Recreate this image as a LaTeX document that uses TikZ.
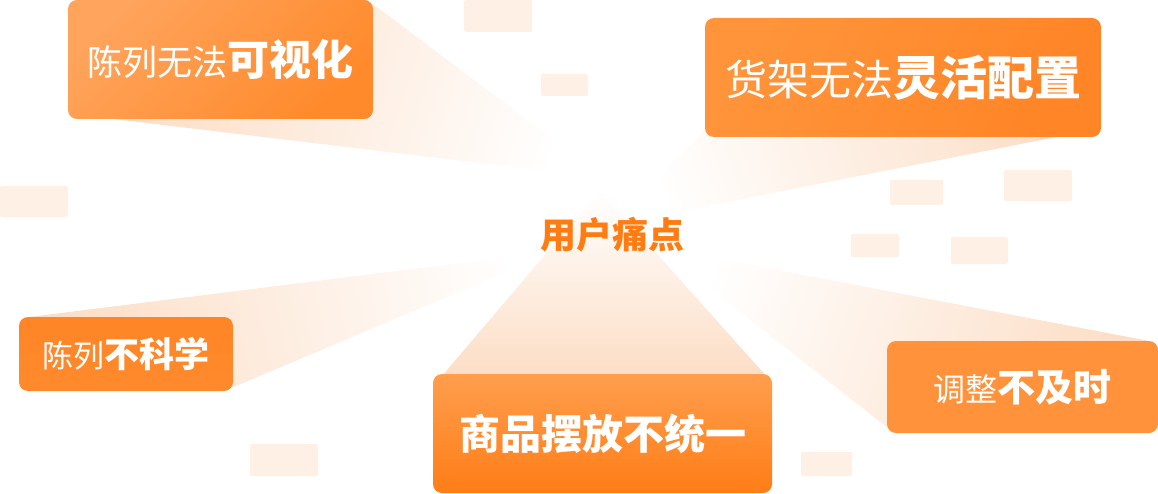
\documentclass[tikz,border=0pt]{standalone}
\usepackage{fontspec}
\newfontfamily\cjk{Noto Sans CJK SC}
\usetikzlibrary{calc}
\definecolor{deco}{RGB}{254,240,229}
\definecolor{beamc}{RGB}{252,222,198}
\definecolor{ptext}{RGB}{255,124,18}
\definecolor{oA}{RGB}{255,164,92}
\definecolor{oB}{RGB}{255,138,44}
\definecolor{oC}{RGB}{255,148,58}
\definecolor{oD}{RGB}{255,133,38}
\definecolor{oE}{RGB}{255,158,78}
\definecolor{oF}{RGB}{255,125,22}
\definecolor{oG}{RGB}{255,146,58}
\newcommand{\rgtxt}[2]{{\fontsize{#1pt}{#1pt}\selectfont\cjk #2}}
\newcommand{\bdtxt}[2]{{\fontsize{#1pt}{#1pt}\selectfont\cjk\bfseries #2}}
\begin{document}
\begin{tikzpicture}[x=1pt,y=-1pt,
  pbox/.style={rounded corners=9pt, text=white, inner sep=0pt, anchor=center},
  decobox/.style={fill=deco, rounded corners=2pt},
  beamfill/.style={top color=beamc, bottom color=white, draw=none}]
\useasboundingbox (0,0) rectangle (1158,494);
% decorative tiles
\fill[decobox] (464,0) rectangle (532,32);
\fill[decobox] (541,74) rectangle (588,96);
\fill[decobox] (0,186) rectangle (68,217);
\fill[decobox] (890,180) rectangle (943,205);
\fill[decobox] (1004,170) rectangle (1072,201);
\fill[decobox] (851,234) rectangle (899,257);
\fill[decobox] (951,237) rectangle (1008,264);
\fill[decobox] (250,444) rectangle (318,476);
\fill[decobox] (801,452) rectangle (852,476);
% apex points
\coordinate (a1) at (605,178);
\coordinate (a2) at (615,224);
\coordinate (a3) at (556,251);
\coordinate (a4) at (600,190);
\coordinate (a5) at (657,247);
% box nodes (placed first, drawn as paths after beams)
\path (220.5,59.5) coordinate (p1) (903,77.5) coordinate (p2) (126,354) coordinate (p3)
      (602.5,433.5) coordinate (p4) (1022.5,387) coordinate (p5);
\path node[minimum width=305pt, minimum height=119pt, inner sep=0pt] (g1) at (p1) {}
      node[minimum width=396pt, minimum height=119pt, inner sep=0pt] (g2) at (p2) {}
      node[minimum width=214pt, minimum height=74pt, inner sep=0pt] (g3) at (p3) {}
      node[minimum width=339pt, minimum height=119pt, inner sep=0pt] (g4) at (p4) {}
      node[minimum width=271pt, minimum height=92pt, inner sep=0pt] (g5) at (p5) {};
% beams
\shade[beamfill, shading angle=72] ([xshift=-6pt]g1.north east) -- (a1) -- ([xshift=47pt]g1.south west) -- cycle;
\shade[beamfill, shading angle=-72] ([yshift=7pt]g2.south west) -- (a2) -- ([yshift=9pt]g2.south east) -- cycle;
\shade[beamfill, shading angle=103] ([xshift=12pt]g3.north west) -- (a3) -- ([yshift=4pt]g3.south east) -- cycle;
\shade[beamfill, shading angle=180] ([xshift=11pt]g4.north west) -- (a4) -- ([xshift=-8pt]g4.north east) -- cycle;
\shade[beamfill, shading angle=-110] ([xshift=-10pt]g5.north east) -- (a5) -- ([yshift=6pt]g5.south west) -- cycle;
% boxes
\node[pbox, minimum width=305pt, minimum height=119pt, top color=oA, bottom color=oB, shading angle=45] (b1) at (p1)
  {\rgtxt{35}{陈列无法}\bdtxt{42}{可视化}};
\node[pbox, minimum width=396pt, minimum height=119pt, top color=oC, bottom color=oD, shading angle=60] (b2) at (p2)
  {\rgtxt{42}{货架无法}\bdtxt{47}{灵活配置}};
\node[pbox, minimum width=214pt, minimum height=74pt, top color=oD, bottom color=oB] (b3) at (p3)
  {\rgtxt{31}{陈列}\bdtxt{35}{不科学}};
\node[pbox, minimum width=339pt, minimum height=119pt, top color=oE, bottom color=oF] (b4) at (p4)
  {\bdtxt{41}{商品摆放不统一}};
\node[pbox, minimum width=271pt, minimum height=92pt, fill=oG] (b5) at (p5)
  {\rgtxt{32}{调整}\bdtxt{38}{不及时}};
% centre label
\node[text=ptext, inner sep=0pt] (c) at (612,235) {\bdtxt{36}{用户痛点}};
\end{tikzpicture}
\end{document}
